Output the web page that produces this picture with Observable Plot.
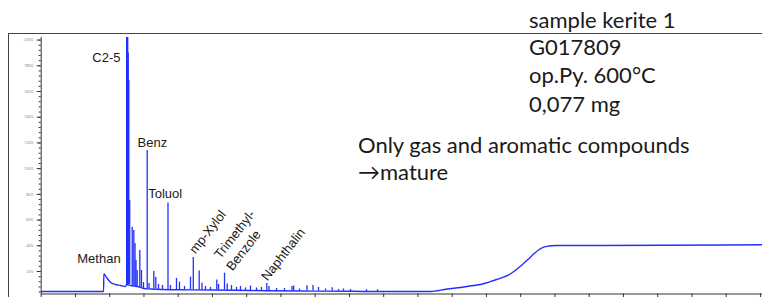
<!DOCTYPE html>
<html><head><meta charset="utf-8">
<script src="https://cdn.jsdelivr.net/npm/d3@7"></script>
<script src="https://cdn.jsdelivr.net/npm/@observablehq/plot@0.6"></script>
<style>
html,body{margin:0;padding:0;background:#fff;}
#wrap{position:relative;width:762px;height:297px;overflow:hidden;background:#fff;}
#chart{position:absolute;left:0;top:0;}
#frame{position:absolute;left:8px;top:33px;width:760px;height:270px;border-left:1px solid #444;border-top:1px solid #444;box-sizing:border-box;}
#notes{position:absolute;left:0;top:0;}
</style></head><body>
<div id="wrap"><div id="chart"></div><div id="frame"></div><svg id="notes" width="762" height="297"></svg></div>
<script>
// ---- data ----
const baseTimes  = [0, 1.82, 1.83, 1.91, 2.02, 2.17, 2.32, 2.45, 2.50, 2.61, 2.80, 2.90, 3.00, 3.19, 3.50, 4.07, 5.00, 6.11, 7.57, 9.10, 9.91, 11.37, 11.85, 12.24, 12.62, 12.83, 13.02, 13.21, 13.42, 13.62, 13.80, 14.00, 14.21, 14.38, 14.52, 14.67, 14.82, 15.02, 16.33, 21.06];
const baseValues = [45, 45, 182, 153, 117, 99, 91, 83, 99, 91, 83, 76, 68, 64, 60, 58, 56, 52, 48, 46, 44, 44, 64, 76, 91, 99, 113, 130, 149, 169, 200, 243, 293, 336, 367, 389, 398, 402, 402, 408];

const peakTimes   = [2.496, 2.511, 2.526, 2.541, 2.558, 2.584, 2.657, 2.704, 2.739, 2.768, 2.803, 2.879, 2.928, 2.987, 3.095, 3.147, 3.288, 3.346, 3.425, 3.542, 3.702, 3.775, 3.950, 4.038, 4.184, 4.359, 4.441, 4.613, 4.695, 4.797, 4.943, 5.127, 5.177, 5.352, 5.431, 5.556, 5.702, 5.819, 5.965, 6.111, 6.286, 6.432, 6.587, 6.651, 6.870, 7.104, 7.323, 7.372, 7.542, 7.761, 7.936, 8.096, 8.301, 8.496, 8.680, 8.826, 9.031, 9.498, 9.819];
const peakHeights = [2020, 2020, 2020, 1900, 1686, 752, 545, 519, 418, 286, 208, 363, 208, 114, 1141, 107, 200, 153, 99, 91, 733, 91, 146, 117, 83, 156, 309, 204, 109, 83, 76, 134, 99, 187, 103, 91, 76, 83, 72, 87, 72, 76, 107, 83, 68, 68, 83, 87, 64, 90, 91, 76, 64, 73, 60, 64, 60, 58, 58];
const peakBases   = [99, 99, 99, 99, 99, 99, 91, 91, 83, 83, 76, 76, 76, 68, 68, 68, 64, 64, 60, 60, 60, 60, 60, 60, 56, 56, 56, 56, 56, 56, 56, 56, 56, 56, 52, 52, 52, 52, 52, 52, 52, 52, 52, 52, 48, 48, 48, 48, 48, 48, 48, 48, 48, 48, 46, 46, 46, 44, 44];

const labelNames  = ["C2-5", "Methan", "Benz", "Toluol", "mp-Xylol", "Trimethyl-", "Benzole", "Naphthalin"];
const labelTimes  = [2.315, 2.32, 2.812, 3.124, 4.505, 5.235, 5.585, 6.607];
const labelValues = [1864, 301, 1203, 807, 332, 293, 200, 122];
const labelKinds  = ["end", "end", "start", "start", "rot", "rot", "rot", "rot"];

const yTickValues  = [200, 400, 600, 800, 1000, 1200, 1400, 1600, 1800, 2000];
const yMinorValues = d3.range(40, 2020, 40);
const xTickValues  = [0, 1, 2, 3, 4, 5, 6, 7, 8, 9, 10, 11, 12, 13, 14, 15, 16, 17, 18, 19, 20, 21];

const noteLines = ["sample kerite 1", "G017809", "op.Py. 600°C", "0,077 mg"];
const commentLines = ["Only gas and aromatic compounds", "\u2192mature"];

// ---- tables ----
const baseline = baseTimes.map((t, i) => ({t, v: baseValues[i]}));
const peaks = peakTimes.map((t, i) => ({t, v: peakHeights[i], b: peakBases[i]}));
const labels = labelNames.map((name, i) => ({name, t: labelTimes[i], v: labelValues[i], kind: labelKinds[i]}));

const blue = "#2030ff";
const txt = {fontFamily: "'Liberation Sans', Arial, sans-serif", fontSize: 13, fill: "#1a1a1a"};

const chart = Plot.plot({
  width: 762, height: 297,
  marginLeft: 40.7, marginRight: 0, marginTop: 37, marginBottom: 3.5,
  style: {background: "transparent", overflow: "visible"},
  x: {domain: [0, 21.06], label: null},
  y: {domain: [25, 2020], label: null},
  marks: [
    Plot.axisY({ticks: yMinorValues, tickSize: 2, tickFormat: () => "", stroke: "#333", label: null}),
    Plot.axisY({ticks: yTickValues, tickSize: 4, tickPadding: 4, fontSize: 4, fill: "#888", stroke: "#333", tickFormat: d => String(d), label: null}),
    Plot.axisX({ticks: xTickValues, tickSize: 4, tickFormat: () => "", stroke: "#333", label: null}),
    Plot.ruleX([0], {stroke: "#333", strokeWidth: 1}),
    Plot.ruleY([25], {stroke: "#333", strokeWidth: 1}),
    Plot.line(baseline, {x: "t", y: "v", stroke: blue, strokeWidth: 1.4, curve: "monotone-x"}),
    Plot.ruleX(peaks, {x: "t", y1: "b", y2: "v", stroke: blue, strokeWidth: 1.3}),
    Plot.text(labels.filter(d => d.kind === "end"), {x: "t", y: "v", text: "name", textAnchor: "end", lineAnchor: "middle", ...txt}),
    Plot.text(labels.filter(d => d.kind === "start"), {x: "t", y: "v", text: "name", textAnchor: "start", lineAnchor: "middle", ...txt}),
    Plot.text(labels.filter(d => d.kind === "rot"), {x: "t", y: "v", text: "name", textAnchor: "start", lineAnchor: "bottom", rotate: -52, ...txt})
  ]
});
document.getElementById("chart").appendChild(chart);

const notes = d3.select("#notes");
const noteFont = "Lato, 'Open Sans', sans-serif";
notes.selectAll("text.n").data(noteLines).join("text")
  .attr("class", "n")
  .attr("x", 529).attr("y", (d, i) => [28.3, 54.5, 83, 111.5][i])
  .attr("font-family", noteFont).attr("font-size", 22).attr("fill", "#1a1a1a")
  .text(d => d);
notes.selectAll("text.c").data(commentLines).join("text")
  .attr("class", "c")
  .attr("x", 358).attr("y", (d, i) => [153, 180][i])
  .attr("font-family", noteFont).attr("font-size", 22).attr("fill", "#1a1a1a")
  .text(d => d);
</script>
</body></html>
